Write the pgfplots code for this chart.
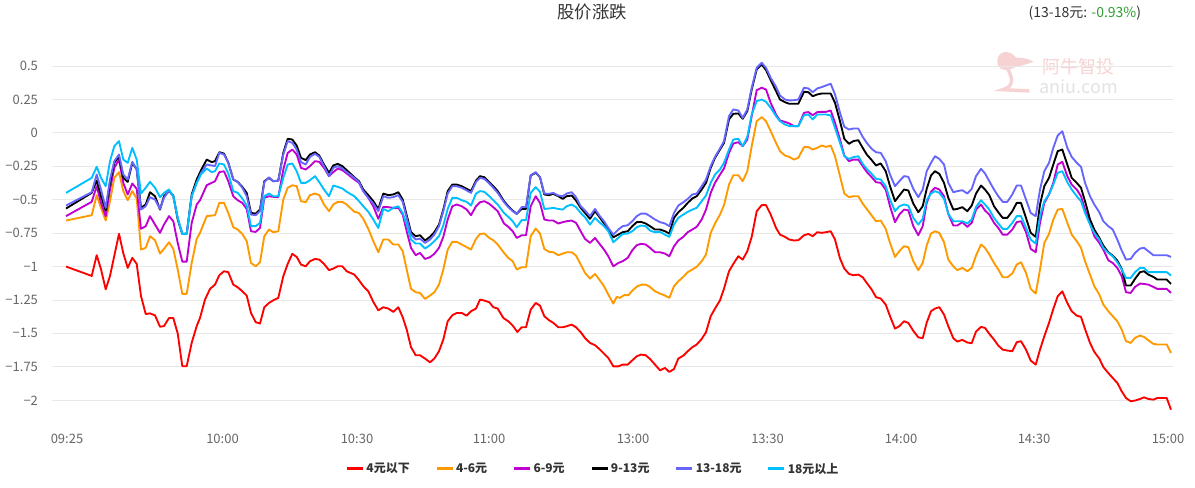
\documentclass[border=0pt]{standalone}
\usepackage{pgfplots}
\pgfplotsset{compat=1.18}
\usepackage{fontspec}
\setmainfont{Noto Sans CJK SC}
\definecolor{cRed}{HTML}{FF0000}
\definecolor{cOrange}{HTML}{FF9900}
\definecolor{cMag}{HTML}{C000D0}
\definecolor{cBlack}{HTML}{000000}
\definecolor{cViolet}{HTML}{6666FF}
\definecolor{cCyan}{HTML}{00BFFF}
\definecolor{cText}{HTML}{333333}
\definecolor{cTick}{HTML}{666666}
\definecolor{cGrid}{HTML}{E8E8E8}
\definecolor{cGreen}{HTML}{2E9E2E}
\definecolor{cPink}{HTML}{F7D2D2}
\definecolor{cWm}{HTML}{E2E2E2}
\begin{document}
\begin{tikzpicture}
\useasboundingbox (0pt,0pt) rectangle (896.25pt,365.25pt);
\node[font=\fontsize{13}{15}\selectfont, text=cText] at (444pt,356.25pt) {股价涨跌};
\node[font=\fontsize{10.5}{12}\selectfont, text=cText, anchor=east, inner sep=0pt] at (856pt,355.5pt) {(13-18元: \textcolor{cGreen}{-0.93\%})};
% watermark
\fill[cPink] (748pt,319pt) .. controls (748pt,328pt) and (758pt,328pt) .. (762pt,322pt) .. controls (768pt,322pt) and (772pt,321pt) .. (775pt,319pt) .. controls (768pt,316pt) and (760pt,315pt) .. (757pt,313pt) .. controls (752pt,312pt) and (748pt,314pt) .. (748pt,319pt) -- cycle;
\draw[cPink, line width=2.6pt] (756pt,313pt) .. controls (760pt,306pt) and (760pt,300pt) .. (752pt,298pt) -- (772pt,297pt);
\node[font=\fontsize{13.5}{15}\selectfont, text=cPink] at (809pt,315pt) {阿牛智投};
\node[font=\fontsize{13.5}{15}\selectfont, text=cWm] at (809pt,300pt) {aniu.com};
\begin{axis}[
  at={(39pt,55pt)}, anchor=south west,
  scale only axis, width=840.75pt, height=265.8pt,
  xmin=52, xmax=1173, ymin=-2.1, ymax=0.55,
  axis line style={draw=none},
  tick style={draw=none},
  ymajorgrids, major grid style={cGrid, line width=0.6pt},
  ytick={-2,-1.75,-1.5,-1.25,-1,-0.75,-0.5,-0.25,0,0.25,0.5},
  yticklabels={−2,−1.75,−1.5,−1.25,−1,−0.75,−0.5,−0.25,0,0.25,0.5},
  xtick={67,222.5,357,489,633,767.5,901,1034,1168},
  xticklabels={09:25,10:00,10:30,11:00,13:00,13:30,14:00,14:30,15:00},
  ticklabel style={font=\fontsize{9.75}{11}\selectfont, text=cTick},
  yticklabel style={xshift=-7pt},
  xticklabel style={anchor=center, yshift=-19pt},
  legend columns=6,
  legend style={at={(axis description cs:0.4826,-0.156)}, anchor=center, draw=none, fill=none,
    font=\fontsize{9}{11}\selectfont\bfseries, text=cText,
    /tikz/every even column/.append style={column sep=17.5pt},
    nodes={inner sep=1.5pt}},
  legend image code/.code={\draw[line width=2.2pt] (0pt,0pt) -- (12pt,0pt);},
  every axis plot/.append style={line width=1.4pt, line join=round},
]
\addplot[cRed] coordinates {(66,-1.0) (91.7,-1.07) (96.7,-0.915) (101,-1.02) (105.7,-1.17) (110,-1.07) (119,-0.755) (123.3,-0.90) (127.7,-1.01) (132.3,-0.935) (136.7,-0.98) (141,-1.22) (145.7,-1.355) (150,-1.35) (155,-1.365) (160,-1.45) (164,-1.445) (169,-1.385) (173.3,-1.385) (177.7,-1.5) (182.3,-1.745) (186.7,-1.745) (191.7,-1.57) (196.7,-1.445)
(200,-1.384) (205,-1.247) (210,-1.167) (215,-1.135) (219.3,-1.065) (224,-1.035) (228.3,-1.042) (233.3,-1.135) (237.7,-1.155) (242.3,-1.185) (246.7,-1.217) (251,-1.347) (255.7,-1.416) (260,-1.426) (264.3,-1.304) (269,-1.272) (273.3,-1.252) (278.3,-1.234) (283.3,-1.072) (287.7,-0.98) (292.3,-0.905) (296.7,-0.928) (301,-0.985) (305.7,-0.998) (310,-0.96) (315,-0.943) (319.3,-0.948) (324,-0.98) (329,-1.027) (333.3,-1.015) (337.7,-0.998) (342.3,-0.998) (346.7,-1.035)
(354.3,-1.06) (359,-1.102) (363.3,-1.147) (368.3,-1.185) (373.3,-1.264) (378.3,-1.327) (383.3,-1.304) (388.3,-1.314) (393.3,-1.339) (398.3,-1.304) (402.7,-1.379) (406.7,-1.471) (411,-1.603) (415.7,-1.663) (420,-1.663) (425,-1.688) (430,-1.716) (434.3,-1.688) (439,-1.633) (443.3,-1.546) (447.7,-1.409) (452.3,-1.364) (456.7,-1.347) (461.7,-1.347) (466.7,-1.367) (471,-1.334) (476,-1.314) (480,-1.247) (484.3,-1.254) (489.3,-1.267) (493.3,-1.304)
(497.7,-1.314) (503.3,-1.384) (508.3,-1.409) (512.7,-1.441) (517.3,-1.489) (521.7,-1.454) (526,-1.454) (530.7,-1.322) (535.7,-1.272) (540,-1.292) (544.3,-1.371) (549,-1.401) (553.3,-1.421) (558.3,-1.454) (562.7,-1.454) (566.7,-1.446) (571.7,-1.434) (576,-1.454) (580.7,-1.491) (585,-1.534) (590,-1.571) (595,-1.588) (599.3,-1.616) (604,-1.651) (608.3,-1.683) (613.3,-1.746) (618.3,-1.746) (622.7,-1.733) (627.7,-1.733) (632.3,-1.701) (636.7,-1.671) (641,-1.658) (645.7,-1.663)
(650,-1.691) (655,-1.733) (660,-1.776) (665,-1.758) (669.3,-1.788) (674,-1.766) (678.3,-1.688) (683.3,-1.666) (687.7,-1.633) (692.3,-1.603) (696.7,-1.583) (701.7,-1.541) (706,-1.491) (710.7,-1.371) (715,-1.314) (720,-1.252) (724,-1.165) (729,-1.035) (733.3,-0.98) (738.3,-0.923) (742.7,-0.948) (747.3,-0.885) (751.7,-0.778) (756.7,-0.586) (761.7,-0.541) (766,-0.541) (770.7,-0.611) (776,-0.711) (780,-0.761) (785,-0.778) (789.3,-0.798) (794,-0.805) (798.3,-0.803)
(804,-0.766) (808.3,-0.756) (812.7,-0.773) (817.3,-0.743) (821.7,-0.748) (826,-0.743) (830.7,-0.736) (835,-0.798) (840,-0.94) (844.3,-1.015) (849,-1.055) (853.3,-1.065) (858.3,-1.06) (862.7,-1.08) (866.7,-1.122) (871.7,-1.172) (876,-1.229) (880.7,-1.239) (885.7,-1.284) (890,-1.371) (895,-1.464) (899.3,-1.446) (904,-1.409) (908.3,-1.421) (913.3,-1.481) (918.3,-1.529) (922.7,-1.536) (926.7,-1.419) (931,-1.334) (935,-1.314) (939.3,-1.304) (944,-1.359) (948.3,-1.446)
(953.3,-1.536) (957.3,-1.561) (962.3,-1.548) (967.3,-1.568) (971.7,-1.573) (976,-1.486) (981,-1.451) (985,-1.459) (989.3,-1.503) (994,-1.546) (998.3,-1.591) (1002.7,-1.621) (1007.3,-1.628) (1012.3,-1.633) (1016.7,-1.566) (1021,-1.558) (1026,-1.621) (1030.7,-1.703) (1035.7,-1.733) (1040,-1.621) (1044.3,-1.521) (1049,-1.421) (1053.3,-1.317) (1057.7,-1.222) (1062.3,-1.185)
(1067.3,-1.272) (1071.7,-1.334) (1076.7,-1.367) (1081,-1.376) (1085,-1.466) (1090,-1.571) (1094.3,-1.638) (1099.3,-1.688) (1103.3,-1.751) (1108.3,-1.796) (1112.7,-1.833) (1117.3,-1.87) (1121.7,-1.933) (1126,-1.983) (1130.7,-2.007) (1135,-2.002) (1140,-1.99) (1144,-1.978) (1148.3,-1.99) (1153.3,-1.995) (1157.3,-1.983) (1162.3,-1.983) (1166.7,-1.983) (1171,-2.07)};
\addlegendentry{4元以下}
\addplot[cOrange] coordinates {(66,-0.656) (91.7,-0.616) (96.7,-0.466) (101,-0.561) (105.7,-0.656) (110,-0.511) (114.3,-0.337) (119,-0.294) (123.3,-0.436) (127.7,-0.504) (132.3,-0.436) (136.7,-0.491) (141,-0.873) (145.7,-0.86) (150,-0.773) (155,-0.803) (160,-0.903) (164,-0.868) (169,-0.818) (173.3,-0.868) (177.7,-1.022) (182.3,-1.204) (186.7,-1.204) (191.7,-0.973) (196.7,-0.793)
(200,-0.748) (206.7,-0.623) (215,-0.616) (219.3,-0.524) (224,-0.524) (228.3,-0.599) (233.3,-0.706) (237.7,-0.723) (242.3,-0.756) (246.7,-0.81) (251,-0.973) (255.7,-0.998) (260,-0.968) (264.3,-0.773) (269,-0.723) (273.3,-0.743) (278.3,-0.736) (283.3,-0.499) (287.7,-0.411) (292.3,-0.392) (296.7,-0.399) (301,-0.511) (305.7,-0.519) (310,-0.466) (315,-0.454) (319.3,-0.466) (324,-0.536) (329,-0.586) (333.3,-0.536) (337.7,-0.516) (342.3,-0.516) (346.7,-0.536)
(354.3,-0.59) (359,-0.60) (363.3,-0.643) (368.3,-0.718) (373.3,-0.81) (378.3,-0.893) (383.3,-0.798) (388.3,-0.798) (393.3,-0.835) (398.3,-0.835) (402.7,-0.885) (406.7,-1.022) (411,-1.167) (415.7,-1.192) (420,-1.197) (425,-1.242) (430,-1.217) (434.3,-1.192) (439,-1.135) (443.3,-1.022) (447.7,-0.873) (452.3,-0.815) (456.7,-0.815) (461.7,-0.835) (466.7,-0.855) (471,-0.873) (476,-0.793) (480,-0.756) (484.3,-0.753) (489.3,-0.786) (493.3,-0.803) (497.7,-0.835)
(504,-0.898) (508.3,-0.935) (512.7,-0.96) (516.7,-1.022) (521.7,-1.005) (526,-1.005) (530.7,-0.773) (535.7,-0.716) (540,-0.753) (544.3,-0.868) (549,-0.89) (553.3,-0.893) (558.3,-0.915) (562.7,-0.903) (566.7,-0.893) (571.7,-0.893) (576,-0.918) (580.7,-0.985) (585,-1.047) (590,-1.09) (595,-1.055) (599.3,-1.097) (604,-1.147) (608.3,-1.209) (613.3,-1.277) (616.7,-1.227) (620,-1.234) (624,-1.214) (628.3,-1.214) (632.7,-1.177) (637.3,-1.147) (641.7,-1.135) (645.7,-1.135)
(650,-1.152) (655,-1.185) (660,-1.202) (665,-1.217) (669.3,-1.234) (674,-1.147) (678.3,-1.11) (683.3,-1.077) (687.7,-1.042) (692.3,-1.022) (696.7,-1.002) (701.7,-0.96) (706,-0.91) (710.7,-0.748) (715,-0.678) (720,-0.611) (724,-0.541) (729,-0.387) (733.3,-0.317) (738.3,-0.317) (742.7,-0.362) (747.3,-0.287) (751.7,-0.1) (756.7,0.087) (761.7,0.117) (766,0.087) (770.7,0.012) (776,-0.075) (780,-0.137) (785,-0.17) (789.3,-0.18) (794,-0.2) (798.3,-0.187)
(804,-0.107) (808.3,-0.107) (812.7,-0.125) (817.3,-0.112) (821.7,-0.095) (826,-0.105) (830.7,-0.095) (835,-0.175) (840,-0.324) (844.3,-0.454) (849,-0.481) (853.3,-0.474) (858.3,-0.474) (862.7,-0.529) (866.7,-0.569) (871.7,-0.618) (876,-0.661) (880.7,-0.656) (885.7,-0.718) (890,-0.823) (895,-0.928) (899.3,-0.885) (904,-0.848) (908.3,-0.855) (913.3,-0.96) (918.3,-1.027) (922.7,-0.973) (926.7,-0.843) (931,-0.753) (935,-0.736) (939.3,-0.748) (944,-0.818) (948.3,-0.948)
(953.3,-0.998) (957.3,-1.027) (962.3,-1.01) (967.3,-1.035) (971.7,-1.01) (976,-0.918) (981,-0.835) (985,-0.86) (989.3,-0.91) (994,-0.973) (998.3,-1.022) (1002.7,-1.08) (1007.3,-1.08) (1012.3,-1.052) (1016.7,-0.985) (1021,-0.968) (1026,-1.047) (1030.7,-1.167) (1035.7,-1.202) (1040,-1.022) (1044.3,-0.823) (1049,-0.756) (1053.3,-0.648) (1057.7,-0.574) (1062.3,-0.569)
(1067.3,-0.673) (1071.7,-0.761) (1076.7,-0.81) (1081,-0.86) (1085,-0.96) (1090,-1.06) (1094.3,-1.147) (1099.3,-1.209) (1103.3,-1.284) (1108.3,-1.334) (1112.7,-1.371) (1117.3,-1.409) (1121.7,-1.471) (1126,-1.558) (1130.7,-1.571) (1135,-1.533) (1140,-1.516) (1144,-1.526) (1148.3,-1.551) (1153.3,-1.578) (1157.3,-1.583) (1162.3,-1.583) (1166.7,-1.583) (1171,-1.646)};
\addlegendentry{4-6元}
\addplot[cMag] coordinates {(66,-0.623) (91.7,-0.516) (96.7,-0.399) (101,-0.524) (105.7,-0.623) (110,-0.424) (114.3,-0.262) (119,-0.2) (123.3,-0.374) (127.7,-0.461) (132.3,-0.379) (136.7,-0.419) (141,-0.718) (145.7,-0.698) (150,-0.623) (155,-0.686) (160,-0.748) (164,-0.686) (169,-0.623) (173.3,-0.661) (177.7,-0.823) (182.3,-0.963) (186.7,-0.963) (191.7,-0.673) (196.7,-0.536)
(200,-0.504) (206.7,-0.392) (215,-0.362) (219.3,-0.294) (224,-0.287) (228.3,-0.362) (233.3,-0.474) (237.7,-0.504) (242.3,-0.524) (246.7,-0.569) (251,-0.736) (255.7,-0.741) (260,-0.711) (264.3,-0.486) (269,-0.474) (273.3,-0.479) (278.3,-0.481) (283.3,-0.274) (287.7,-0.15) (292.3,-0.125) (296.7,-0.162) (301,-0.262) (305.7,-0.274) (310,-0.249) (315,-0.212) (319.3,-0.217) (324,-0.262) (329,-0.324) (333.3,-0.294) (337.7,-0.267) (342.3,-0.279) (346.7,-0.304)
(354.3,-0.349) (359,-0.374) (363.3,-0.436) (368.3,-0.486) (373.3,-0.549) (378.3,-0.643) (383.3,-0.554) (388.3,-0.556) (393.3,-0.561) (398.3,-0.561) (402.7,-0.611) (406.7,-0.736) (411,-0.86) (415.7,-0.915) (420,-0.898) (425,-0.943) (430,-0.93) (434.3,-0.905) (439,-0.86) (443.3,-0.778) (447.7,-0.648) (452.3,-0.549) (456.7,-0.536) (461.7,-0.549) (466.7,-0.574) (471,-0.616) (476,-0.549) (480,-0.519) (484.3,-0.511) (489.3,-0.531) (493.3,-0.556) (497.7,-0.586)
(504,-0.678) (508.3,-0.703) (512.7,-0.736) (516.7,-0.786) (521.7,-0.766) (526,-0.766) (530.7,-0.549) (535.7,-0.474) (540,-0.524) (544.3,-0.648) (549,-0.656) (553.3,-0.656) (558.3,-0.678) (562.7,-0.668) (566.7,-0.661) (571.7,-0.656) (576,-0.673) (580.7,-0.736) (585,-0.793) (590,-0.823) (595,-0.786) (599.3,-0.828) (604,-0.873) (608.3,-0.923) (613.3,-0.998) (618.3,-0.973) (622.7,-0.96) (627.7,-0.935) (632.3,-0.878) (636.7,-0.84) (641,-0.83) (645.7,-0.835)
(650,-0.86) (655,-0.893) (660,-0.893) (665,-0.903) (669.3,-0.923) (674,-0.848) (678.3,-0.805) (683.3,-0.778) (687.7,-0.743) (692.3,-0.723) (696.7,-0.703) (701.7,-0.648) (706,-0.574) (710.7,-0.449) (715,-0.374) (720,-0.312) (724,-0.267) (729,-0.15) (733.3,-0.08) (738.3,-0.07) (742.7,-0.1) (747.3,-0.05) (751.7,0.125) (756.7,0.319) (761.7,0.337) (766,0.324) (770.7,0.224) (776,0.137) (780,0.092) (785,0.082) (789.3,0.07) (794,0.05) (798.3,0.05)
(804,0.15) (808.3,0.155) (812.7,0.132) (817.3,0.155) (821.7,0.157) (826,0.157) (830.7,0.167) (835,0.075) (840,-0.05) (844.3,-0.17) (849,-0.212) (853.3,-0.2) (858.3,-0.2) (862.7,-0.249) (866.7,-0.292) (871.7,-0.332) (876,-0.369) (880.7,-0.374) (885.7,-0.424) (890,-0.549) (895,-0.668) (899.3,-0.611) (904,-0.574) (908.3,-0.579) (913.3,-0.698) (918.3,-0.766) (922.7,-0.698) (926.7,-0.524) (931,-0.441) (935,-0.411) (939.3,-0.424) (944,-0.474) (948.3,-0.606)
(953.3,-0.693) (957.3,-0.693) (962.3,-0.668) (967.3,-0.703) (971.7,-0.673) (976,-0.574) (981,-0.536) (985,-0.581) (989.3,-0.611) (994,-0.673) (998.3,-0.711) (1002.7,-0.761) (1007.3,-0.761) (1012.3,-0.723) (1016.7,-0.668) (1021,-0.661) (1026,-0.743) (1030.7,-0.868) (1035.7,-0.893) (1040,-0.673) (1044.3,-0.524) (1049,-0.461) (1053.3,-0.374) (1057.7,-0.237) (1062.3,-0.217)
(1067.3,-0.324) (1071.7,-0.387) (1076.7,-0.424) (1081,-0.474) (1085,-0.574) (1090,-0.678) (1094.3,-0.773) (1099.3,-0.823) (1103.3,-0.873) (1108.3,-0.953) (1112.7,-0.973) (1117.3,-1.01) (1121.7,-1.072) (1126,-1.192) (1130.7,-1.197) (1135,-1.152) (1140,-1.127) (1144,-1.13) (1148.3,-1.135) (1153.3,-1.152) (1157.3,-1.167) (1162.3,-1.167) (1166.7,-1.167) (1171,-1.197)};
\addlegendentry{6-9元}
\addplot[cBlack] coordinates {(66,-0.566) (91.7,-0.449) (96.7,-0.357) (101,-0.474) (105.7,-0.581) (110,-0.374) (114.3,-0.224) (119,-0.175) (123.3,-0.337) (127.7,-0.367) (132.3,-0.224) (136.7,-0.274) (141,-0.561) (145.7,-0.536) (150,-0.444) (155,-0.474) (160,-0.574) (164,-0.474) (169,-0.436) (173.3,-0.469) (177.7,-0.648) (182.3,-0.756) (186.7,-0.756) (191.7,-0.461) (196.7,-0.349)
(201,-0.28) (206.7,-0.2) (211.7,-0.219) (215,-0.212) (219.3,-0.145) (224,-0.155) (228.3,-0.224) (233.3,-0.349) (237.7,-0.367) (242.3,-0.404) (246.7,-0.449) (251,-0.599) (255.7,-0.604) (260,-0.574) (264.3,-0.362) (269,-0.337) (273.3,-0.362) (278.3,-0.357) (283.3,-0.15) (287.7,-0.045) (292.3,-0.05) (296.7,-0.095) (301,-0.187) (305.7,-0.204) (310,-0.162) (315,-0.145) (319.3,-0.17) (324,-0.237) (329,-0.299) (333.3,-0.244) (337.7,-0.232) (342.3,-0.249) (346.7,-0.279)
(354.3,-0.332) (359,-0.362) (363.3,-0.424) (368.3,-0.466) (373.3,-0.511) (378.3,-0.569) (383.3,-0.454) (388.3,-0.466) (393.3,-0.461) (398.3,-0.444) (402.7,-0.499) (406.7,-0.616) (411,-0.743) (415.7,-0.773) (420,-0.766) (425,-0.805) (430,-0.778) (434.3,-0.743) (439,-0.686) (443.3,-0.574) (447.7,-0.436) (452.3,-0.387) (456.7,-0.387) (461.7,-0.399) (466.7,-0.419) (471,-0.436) (476,-0.357) (480,-0.324) (484.3,-0.332) (489.3,-0.369) (493.3,-0.399) (497.7,-0.436)
(504,-0.511) (508.3,-0.549) (512.7,-0.581) (516.7,-0.606) (521.7,-0.569) (526,-0.569) (530.7,-0.319) (535.7,-0.299) (540,-0.332) (544.3,-0.461) (549,-0.466) (553.3,-0.456) (558.3,-0.474) (562.7,-0.494) (566.7,-0.474) (571.7,-0.469) (576,-0.506) (580.7,-0.561) (585,-0.599) (590,-0.643) (595,-0.586) (599.3,-0.628) (604,-0.678) (608.3,-0.723) (613.3,-0.781) (618.3,-0.761) (622.7,-0.743) (627.7,-0.736) (632.3,-0.698) (636.7,-0.668) (641,-0.666) (645.7,-0.678)
(650,-0.698) (655,-0.723) (660,-0.723) (665,-0.736) (669.3,-0.753) (674,-0.636) (678.3,-0.594) (683.3,-0.561) (687.7,-0.524) (692.3,-0.491) (696.7,-0.474) (701.7,-0.424) (706,-0.374) (710.7,-0.262) (715,-0.187) (720,-0.125) (724,-0.075) (729,0.1) (733.3,0.142) (738.3,0.145) (742.7,0.105) (747.3,0.162) (751.7,0.324) (756.7,0.474) (761.7,0.511) (766,0.469) (770.7,0.394) (776,0.312) (780,0.249) (785,0.229) (789.3,0.217) (794,0.217) (798.3,0.217)
(804,0.307) (808.3,0.304) (812.7,0.274) (817.3,0.287) (821.7,0.294) (826,0.294) (830.7,0.294) (835,0.224) (840,0.087) (844.3,-0.045) (849,-0.082) (853.3,-0.062) (858.3,-0.055) (862.7,-0.112) (866.7,-0.162) (871.7,-0.204) (876,-0.244) (880.7,-0.229) (885.7,-0.287) (890,-0.399) (895,-0.511) (899.3,-0.469) (904,-0.424) (908.3,-0.431) (913.3,-0.529) (918.3,-0.594) (922.7,-0.549) (926.7,-0.419) (931,-0.319) (935,-0.287) (939.3,-0.307) (944,-0.374) (948.3,-0.486)
(953.3,-0.574) (957.3,-0.569) (962.3,-0.556) (967.3,-0.586) (971.7,-0.544) (976,-0.454) (981,-0.394) (985,-0.424) (989.3,-0.466) (994,-0.549) (998.3,-0.594) (1002.7,-0.636) (1007.3,-0.636) (1012.3,-0.586) (1016.7,-0.524) (1021,-0.524) (1026,-0.636) (1030.7,-0.748) (1035.7,-0.778) (1040,-0.536) (1044.3,-0.399) (1049,-0.337) (1053.3,-0.237) (1057.7,-0.137) (1062.3,-0.125)
(1067.3,-0.237) (1071.7,-0.337) (1076.7,-0.374) (1081,-0.411) (1085,-0.511) (1090,-0.648) (1094.3,-0.723) (1099.3,-0.786) (1103.3,-0.843) (1108.3,-0.893) (1112.7,-0.918) (1117.3,-0.955) (1121.7,-1.017) (1126,-1.142) (1130.7,-1.142) (1135,-1.092) (1140,-1.042) (1144,-1.035) (1148.3,-1.06) (1153.3,-1.077) (1157.3,-1.097) (1162.3,-1.097) (1166.7,-1.097) (1171,-1.13)};
\addlegendentry{9-13元}
\addplot[cViolet] coordinates {(66,-0.544) (91.7,-0.444) (96.7,-0.312) (101,-0.424) (105.7,-0.561) (110,-0.349) (114.3,-0.212) (119,-0.162) (123.3,-0.312) (127.7,-0.349) (132.3,-0.217) (136.7,-0.274) (141,-0.574) (145.7,-0.549) (150,-0.481) (155,-0.499) (160,-0.569) (164,-0.486) (169,-0.431) (173.3,-0.474) (177.7,-0.636) (182.3,-0.756) (186.7,-0.756) (191.7,-0.474) (196.7,-0.374)
(201,-0.30) (206.7,-0.237) (215,-0.249) (219.3,-0.15) (224,-0.162) (228.3,-0.224) (233.3,-0.349) (237.7,-0.367) (242.3,-0.411) (246.7,-0.474) (251,-0.611) (255.7,-0.616) (260,-0.586) (264.3,-0.369) (269,-0.332) (273.3,-0.362) (278.3,-0.357) (283.3,-0.162) (287.7,-0.062) (292.3,-0.075) (296.7,-0.125) (301,-0.219) (305.7,-0.237) (310,-0.18) (315,-0.157) (319.3,-0.18) (324,-0.249) (329,-0.324) (333.3,-0.262) (337.7,-0.249) (342.3,-0.267) (346.7,-0.294)
(354.3,-0.337) (359,-0.369) (363.3,-0.436) (368.3,-0.486) (373.3,-0.529) (378.3,-0.586) (383.3,-0.474) (388.3,-0.486) (393.3,-0.481) (398.3,-0.466) (402.7,-0.516) (406.7,-0.636) (411,-0.761) (415.7,-0.798) (420,-0.791) (425,-0.823) (430,-0.798) (434.3,-0.761) (439,-0.698) (443.3,-0.586) (447.7,-0.454) (452.3,-0.399) (456.7,-0.399) (461.7,-0.411) (466.7,-0.431) (471,-0.449) (476,-0.367) (480,-0.337) (484.3,-0.344) (489.3,-0.379) (493.3,-0.411) (497.7,-0.449)
(504,-0.519) (508.3,-0.556) (512.7,-0.586) (516.7,-0.606) (521.7,-0.556) (526,-0.556) (530.7,-0.317) (535.7,-0.294) (540,-0.332) (544.3,-0.454) (549,-0.456) (553.3,-0.449) (558.3,-0.469) (562.7,-0.474) (566.7,-0.454) (571.7,-0.444) (576,-0.481) (580.7,-0.549) (585,-0.581) (590,-0.623) (595,-0.569) (599.3,-0.618) (604,-0.661) (608.3,-0.711) (613.3,-0.761) (618.3,-0.723) (622.7,-0.698) (627.7,-0.691) (632.3,-0.661) (636.7,-0.623) (641,-0.604) (645.7,-0.604)
(650,-0.623) (655,-0.648) (660,-0.668) (665,-0.678) (669.3,-0.698) (674,-0.599) (678.3,-0.544) (683.3,-0.519) (687.7,-0.494) (692.3,-0.461) (696.7,-0.454) (701.7,-0.399) (706,-0.349) (710.7,-0.249) (715,-0.18) (720,-0.117) (724,-0.062) (729,0.125) (733.3,0.175) (738.3,0.167) (742.7,0.112) (747.3,0.175) (751.7,0.337) (756.7,0.486) (761.7,0.524) (766,0.486) (770.7,0.411) (776,0.344) (780,0.279) (785,0.249) (789.3,0.242) (794,0.244) (798.3,0.249)
(804,0.337) (808.3,0.332) (812.7,0.304) (817.3,0.332) (821.7,0.342) (826,0.354) (830.7,0.367) (835,0.287) (840,0.15) (844.3,0.045) (849,0.025) (853.3,0.032) (858.3,0.032) (862.7,-0.03) (866.7,-0.075) (871.7,-0.12) (876,-0.145) (880.7,-0.15) (885.7,-0.212) (890,-0.312) (895,-0.399) (899.3,-0.362) (904,-0.324) (908.3,-0.329) (913.3,-0.419) (918.3,-0.481) (922.7,-0.424) (926.7,-0.287) (931,-0.224) (935,-0.175) (939.3,-0.195) (944,-0.237) (948.3,-0.374)
(953.3,-0.444) (957.3,-0.436) (962.3,-0.429) (967.3,-0.454) (971.7,-0.419) (976,-0.324) (981,-0.269) (985,-0.304) (989.3,-0.362) (994,-0.424) (998.3,-0.474) (1002.7,-0.516) (1007.3,-0.516) (1012.3,-0.461) (1016.7,-0.394) (1021,-0.394) (1026,-0.499) (1030.7,-0.599) (1035.7,-0.623) (1040,-0.424) (1044.3,-0.287) (1049,-0.224) (1053.3,-0.112) (1057.7,-0.02) (1062.3,0.012)
(1067.3,-0.112) (1071.7,-0.18) (1076.7,-0.224) (1081,-0.254) (1085,-0.374) (1090,-0.474) (1094.3,-0.536) (1099.3,-0.594) (1103.3,-0.661) (1108.3,-0.698) (1112.7,-0.723) (1117.3,-0.798) (1121.7,-0.88) (1126,-0.948) (1130.7,-0.943) (1135,-0.898) (1140,-0.865) (1144,-0.86) (1148.3,-0.885) (1153.3,-0.915) (1157.3,-0.915) (1162.3,-0.915) (1166.7,-0.915) (1171,-0.928)};
\addlegendentry{13-18元}
\addplot[cCyan] coordinates {(66,-0.449) (91.7,-0.337) (96.7,-0.254) (101,-0.337) (105.7,-0.399) (110,-0.212) (114.3,-0.1) (119,-0.062) (123.3,-0.2) (127.7,-0.224) (132.3,-0.112) (136.7,-0.2) (141,-0.454) (145.7,-0.411) (150,-0.367) (155,-0.411) (160,-0.481) (164,-0.449) (169,-0.424) (173.3,-0.474) (177.7,-0.636) (182.3,-0.756) (186.7,-0.756) (191.7,-0.474) (196.7,-0.374)
(201,-0.31) (206.7,-0.267) (211.7,-0.294) (215,-0.287) (219.3,-0.229) (224,-0.237) (228.3,-0.304) (233.3,-0.436) (237.7,-0.449) (242.3,-0.491) (246.7,-0.544) (251,-0.698) (255.7,-0.698) (260,-0.673) (264.3,-0.474) (269,-0.454) (273.3,-0.474) (278.3,-0.474) (283.3,-0.337) (287.7,-0.237) (292.3,-0.229) (296.7,-0.287) (301,-0.374) (305.7,-0.374) (310,-0.354) (315,-0.324) (319.3,-0.369) (324,-0.424) (329,-0.474) (333.3,-0.394) (337.7,-0.404) (342.3,-0.416) (346.7,-0.441)
(354.3,-0.474) (359,-0.511) (363.3,-0.549) (368.3,-0.591) (373.3,-0.648) (378.3,-0.711) (383.3,-0.569) (388.3,-0.586) (393.3,-0.561) (398.3,-0.549) (402.7,-0.599) (406.7,-0.686) (411,-0.798) (415.7,-0.828) (420,-0.828) (425,-0.865) (430,-0.84) (434.3,-0.81) (439,-0.773) (443.3,-0.693) (447.7,-0.569) (452.3,-0.486) (456.7,-0.486) (461.7,-0.504) (466.7,-0.516) (471,-0.544) (476,-0.454) (480,-0.436) (484.3,-0.441) (489.3,-0.474) (493.3,-0.504) (497.7,-0.536)
(504,-0.599) (508.3,-0.628) (512.7,-0.661) (516.7,-0.706) (521.7,-0.653) (526,-0.653) (530.7,-0.449) (535.7,-0.406) (540,-0.441) (544.3,-0.569) (549,-0.566) (553.3,-0.561) (558.3,-0.569) (562.7,-0.574) (566.7,-0.549) (571.7,-0.536) (576,-0.556) (580.7,-0.599) (585,-0.631) (590,-0.686) (595,-0.636) (599.3,-0.668) (604,-0.698) (608.3,-0.736) (613.3,-0.818) (618.3,-0.786) (622.7,-0.756) (627.7,-0.753) (632.3,-0.736) (636.7,-0.706) (641,-0.693) (645.7,-0.698)
(650,-0.731) (655,-0.743) (660,-0.741) (665,-0.761) (669.3,-0.778) (674,-0.686) (678.3,-0.636) (683.3,-0.611) (687.7,-0.591) (692.3,-0.574) (696.7,-0.561) (701.7,-0.511) (706,-0.469) (710.7,-0.374) (715,-0.312) (720,-0.274) (724,-0.224) (729,-0.125) (733.3,-0.05) (738.3,-0.045) (742.7,-0.1) (747.3,-0.03) (751.7,0.137) (756.7,0.237) (761.7,0.249) (766,0.232) (770.7,0.187) (776,0.125) (780,0.087) (785,0.062) (789.3,0.05) (794,0.05) (798.3,0.05)
(804,0.132) (808.3,0.137) (812.7,0.1) (817.3,0.137) (821.7,0.137) (826,0.137) (830.7,0.13) (835,0.037) (840,-0.075) (844.3,-0.175) (849,-0.195) (853.3,-0.182) (858.3,-0.175) (862.7,-0.232) (866.7,-0.269) (871.7,-0.307) (876,-0.344) (880.7,-0.349) (885.7,-0.399) (890,-0.499) (895,-0.586) (899.3,-0.549) (904,-0.536) (908.3,-0.544) (913.3,-0.636) (918.3,-0.686) (922.7,-0.643) (926.7,-0.504) (931,-0.454) (935,-0.436) (939.3,-0.449) (944,-0.494) (948.3,-0.606)
(953.3,-0.661) (957.3,-0.661) (962.3,-0.661) (967.3,-0.678) (971.7,-0.648) (976,-0.554) (981,-0.504) (985,-0.536) (989.3,-0.574) (994,-0.636) (998.3,-0.678) (1002.7,-0.718) (1007.3,-0.718) (1012.3,-0.673) (1016.7,-0.623) (1021,-0.623) (1026,-0.711) (1030.7,-0.798) (1035.7,-0.828) (1040,-0.623) (1044.3,-0.511) (1049,-0.461) (1053.3,-0.387) (1057.7,-0.299) (1062.3,-0.287)
(1067.3,-0.369) (1071.7,-0.424) (1076.7,-0.474) (1081,-0.511) (1085,-0.599) (1090,-0.686) (1094.3,-0.748) (1099.3,-0.798) (1103.3,-0.86) (1108.3,-0.898) (1112.7,-0.923) (1117.3,-0.968) (1121.7,-1.022) (1126,-1.085) (1130.7,-1.085) (1135,-1.042) (1140,-1.01) (1144,-1.01) (1148.3,-1.042) (1153.3,-1.042) (1157.3,-1.042) (1162.3,-1.042) (1166.7,-1.042) (1171,-1.067)};
\addlegendentry{18元以上}
\end{axis}
\end{tikzpicture}
\end{document}
